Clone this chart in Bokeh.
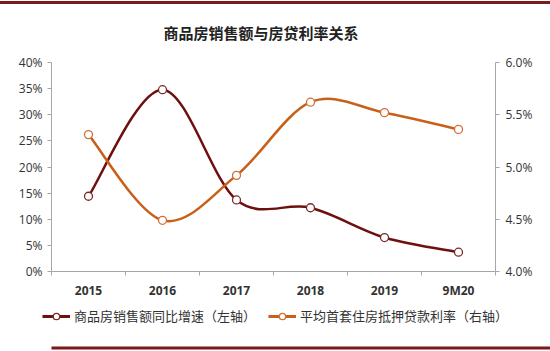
from bokeh.plotting import figure
from bokeh.models import (Range1d, LinearAxis, FixedTicker, NumeralTickFormatter,
                          Legend, LegendItem, Div, BoxAnnotation)
from bokeh.layouts import column
from bokeh.embed import file_html
from bokeh.resources import INLINE

title_text = "商品房销售额与房贷利率关系"
series_names = ["商品房销售额同比增速（左轴）", "平均首套住房抵押贷款利率（右轴）"]
categories = ["2015", "2016", "2017", "2018", "2019", "9M20"]
sales_growth = [0.144, 0.348, 0.137, 0.122, 0.065, 0.037]
mortgage_rate = [0.0531, 0.0449, 0.0492, 0.0562, 0.0552, 0.0536]
left_ticks = [0.0, 0.05, 0.10, 0.15, 0.20, 0.25, 0.30, 0.35, 0.40]
right_ticks = [0.040, 0.045, 0.050, 0.055, 0.060]

DARK = "#6e1010"
ORANGE = "#c8601a"
RULE = "#7a1a1a"
AXIS = "#a6a6a6"
LABEL = "#333333"
CJK = "Noto Sans CJK SC"

xs = [i + 0.5 for i in range(len(categories))]


def smooth(xv, yv):
    n = len(xv)
    d = dict(x0=[], y0=[], x1=[], y1=[], cx0=[], cy0=[], cx1=[], cy1=[])
    for i in range(n - 1):
        pm = max(i - 1, 0)
        pn = min(i + 2, n - 1)
        d["x0"].append(xv[i]); d["y0"].append(yv[i])
        d["x1"].append(xv[i + 1]); d["y1"].append(yv[i + 1])
        d["cx0"].append(xv[i] + (xv[i + 1] - xv[pm]) / 6)
        d["cy0"].append(yv[i] + (yv[i + 1] - yv[pm]) / 6)
        d["cx1"].append(xv[i + 1] - (xv[pn] - xv[i]) / 6)
        d["cy1"].append(yv[i + 1] - (yv[pn] - yv[i]) / 6)
    return d


header = Div(
    text=(
        '<div style="position:relative;width:550px;height:50px;">'
        f'<div style="position:absolute;top:1px;left:0;width:550px;height:3px;background:{RULE};"></div>'
        '<div style="position:absolute;top:23px;left:0;width:522px;text-align:center;'
        f"font-family:'{CJK}';font-weight:bold;font-size:15px;line-height:20px;color:#222222;\">"
        f"{title_text}</div></div>"
    ),
    width=550, height=50, margin=0)

p = figure(frame_width=444, frame_height=209, x_range=Range1d(0, 6), y_range=Range1d(0, 0.4),
           output_backend="svg", toolbar_location=None,
           min_border_left=51, min_border_right=55, min_border_top=12,
           min_border_bottom=30, outline_line_color=None)
p.grid.visible = False
p.extra_y_ranges = {"right": Range1d(0.04, 0.06)}

# left axis
ya = p.yaxis[0]
ya.ticker = FixedTicker(ticks=left_ticks, minor_ticks=[])
ya.formatter = NumeralTickFormatter(format="0%")
ya.axis_line_color = AXIS
ya.major_tick_line_color = AXIS
ya.major_tick_in = 0
ya.major_tick_out = 4
ya.major_label_standoff = 5
ya.major_label_text_font = "Open Sans"
ya.major_label_text_font_size = "12px"
ya.major_label_text_color = LABEL

# right axis
ra = LinearAxis(y_range_name="right")
ra.ticker = FixedTicker(ticks=right_ticks, minor_ticks=[])
ra.formatter = NumeralTickFormatter(format="0.0%")
ra.axis_line_color = AXIS
ra.major_tick_line_color = AXIS
ra.major_tick_in = 0
ra.major_tick_out = 4
ra.major_label_standoff = 6
ra.major_label_text_font = "Open Sans"
ra.major_label_text_font_size = "12px"
ra.major_label_text_color = LABEL
p.add_layout(ra, "right")

# x axis
xa = p.xaxis[0]
xa.ticker = FixedTicker(ticks=xs, minor_ticks=list(range(len(categories) + 1)))
xa.major_label_overrides = {x: c for x, c in zip(xs, categories)}
xa.axis_line_color = AXIS
xa.major_tick_line_color = None
xa.minor_tick_line_color = AXIS
xa.minor_tick_in = 0
xa.minor_tick_out = 4
xa.major_label_standoff = 4
xa.major_label_text_font = "Open Sans"
xa.major_label_text_font_style = "bold"
xa.major_label_text_font_size = "12px"
xa.major_label_text_color = LABEL

# curves
p.bezier(source=smooth(xs, sales_growth), x0="x0", y0="y0", x1="x1", y1="y1",
         cx0="cx0", cy0="cy0", cx1="cx1", cy1="cy1", line_color=DARK, line_width=2.5)
p.bezier(source=smooth(xs, mortgage_rate), x0="x0", y0="y0", x1="x1", y1="y1",
         cx0="cx0", cy0="cy0", cx1="cx1", cy1="cy1", line_color=ORANGE, line_width=2.5,
         y_range_name="right")
p.scatter(xs, sales_growth, size=8, marker="circle", fill_color="white",
          line_color="#7a2a2a", line_width=1.3)
p.scatter(xs, mortgage_rate, size=8, marker="circle", fill_color="white",
          line_color="#d0703a", line_width=1.3, y_range_name="right")

# legend strip (renderers hold the series but sit outside its visible range)
lg = figure(frame_width=550, frame_height=50, x_range=Range1d(0, 1), y_range=Range1d(100, 101),
            output_backend="svg", toolbar_location=None, min_border=0,
            x_axis_location=None, y_axis_location=None, outline_line_color=None)
lg.grid.visible = False
l1 = lg.line(x=xs, y=sales_growth, line_color=DARK, line_width=3)
m1 = lg.scatter(x=xs, y=sales_growth, size=8, marker="circle", fill_color="white",
                line_color="#7a2a2a", line_width=1.3)
l2 = lg.line(x=xs, y=mortgage_rate, line_color=ORANGE, line_width=3)
m2 = lg.scatter(x=xs, y=mortgage_rate, size=8, marker="circle", fill_color="white",
                line_color="#d0703a", line_width=1.3)
legend = Legend(items=[LegendItem(label=series_names[0], renderers=[l1, m1]),
                       LegendItem(label=series_names[1], renderers=[l2, m2])],
                orientation="horizontal", location="top_center",
                border_line_color=None, background_fill_alpha=0,
                label_text_font=CJK, label_text_font_size="13px", label_text_color=LABEL,
                glyph_width=28, glyph_height=16, label_standoff=4, spacing=12,
                padding=4, margin=5)
lg.add_layout(legend)
# bottom rule
lg.add_layout(BoxAnnotation(left=-60, right=620, bottom=2, top=5,
                            left_units="screen", right_units="screen",
                            bottom_units="screen", top_units="screen",
                            fill_color=RULE, fill_alpha=1, line_color=None))

layout = column(header, p, lg, spacing=0)
open("out.html", "w").write(file_html(layout, INLINE))
